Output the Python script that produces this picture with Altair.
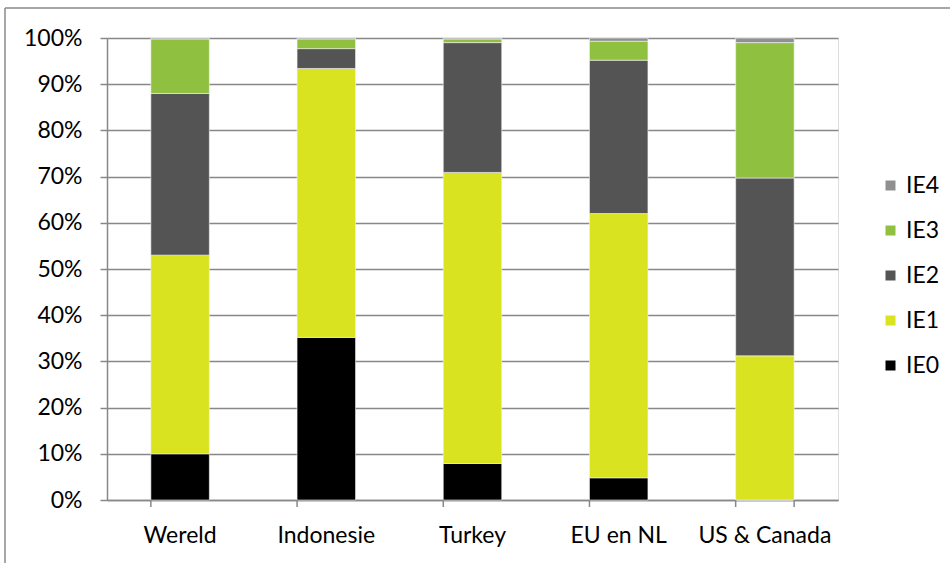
import altair as alt
import pandas as pd

# Share of each IE class per region (percent of total)
regions = ["Wereld", "Indonesie", "Turkey", "EU en NL", "US & Canada"]
classes = ["IE0", "IE1", "IE2", "IE3", "IE4"]
ie0 = [10.0, 35.2, 7.9, 4.8, 0.0]
ie1 = [43.0, 58.2, 63.0, 57.2, 31.2]
ie2 = [35.0, 4.3, 28.1, 33.2, 38.5]
ie3 = [11.8, 2.1, 0.8, 4.1, 29.3]
ie4 = [0.2, 0.2, 0.2, 0.7, 1.0]
colors = {"IE0": "#000000", "IE1": "#dae31f", "IE2": "#545454",
          "IE3": "#8fc03f", "IE4": "#909090"}

rows = []
for series, vals in zip(classes, [ie0, ie1, ie2, ie3, ie4]):
    for r, v in zip(regions, vals):
        rows.append({"regio": r, "klasse": series, "aandeel": v,
                     "volgorde": classes.index(series)})
df = pd.DataFrame(rows)

W, H = 731, 462
FONT = "Lato"
FS = 23
legend_order = classes[::-1]

x_enc = alt.X("regio:N", sort=regions, title=None,
              scale=alt.Scale(paddingInner=0.6, paddingOuter=0.3),
              axis=alt.Axis(labelAngle=0, labelFontSize=FS, labelFont=FONT,
                            labelColor="#000000", labelPadding=24, ticks=False,
                            domainColor="#888888", domainWidth=1.5))

bars = alt.Chart(df).mark_bar(stroke="#f4f4f4", strokeWidth=0.6).encode(
    x=x_enc,
    y=alt.Y("aandeel:Q", stack="zero", title=None,
            scale=alt.Scale(domain=[0, 100], nice=False),
            axis=alt.Axis(values=list(range(0, 101, 10)),
                          labelExpr="datum.value + '%'",
                          labelFontSize=FS, labelFont=FONT, labelColor="#000000",
                          labelPadding=18, tickSize=7, tickColor="#888888",
                          tickWidth=1.5, domainColor="#888888", domainWidth=1.5,
                          gridColor="#888888", gridWidth=1.5)),
    color=alt.Color("klasse:N", title=None,
                    scale=alt.Scale(domain=legend_order,
                                    range=[colors[c] for c in legend_order]),
                    legend=alt.Legend(orient="none", legendX=772, legendY=136,
                                      symbolType="square", symbolSize=100,
                                      symbolStrokeWidth=0, labelFontSize=FS,
                                      labelFont=FONT, labelColor="#000000",
                                      labelOffset=4, rowPadding=21, padding=0)),
    order=alt.Order("volgorde:Q", sort="ascending"),
)

# Category separator ticks below the x axis (band edges)
tick_df = pd.DataFrame({"regio": regions})
edge_ticks = alt.Chart(tick_df).mark_rule(color="#888888", strokeWidth=1.5).encode(
    x=alt.X("regio:N", sort=regions, bandPosition=0),
    y=alt.value(H), y2=alt.value(H + 7),
)
end_tick = alt.Chart(tick_df.tail(1)).mark_rule(color="#888888", strokeWidth=1.5).encode(
    x=alt.X("regio:N", sort=regions, bandPosition=1),
    y=alt.value(H), y2=alt.value(H + 7),
)

# Outer frame lines (top and left)
frame_top = alt.Chart(tick_df.head(1)).mark_rule(color="#8a8a8a", strokeWidth=1.5).encode(
    x=alt.value(-102), x2=alt.value(W + 120), y=alt.value(-30))
frame_left = alt.Chart(tick_df.head(1)).mark_rule(color="#8a8a8a", strokeWidth=1.5).encode(
    x=alt.value(-102), y=alt.value(-30), y2=alt.value(H + 80))

chart = alt.layer(bars, edge_ticks, end_tick, frame_top, frame_left).properties(
    width=W, height=H,
    autosize=alt.AutoSizeParams(type="none"),
    padding={"left": 107, "top": 38, "right": 112, "bottom": 63},
).configure_view(stroke=None).configure(background="#ffffff")

chart.save("out.html", embed_options={"renderer": "svg", "actions": False})
